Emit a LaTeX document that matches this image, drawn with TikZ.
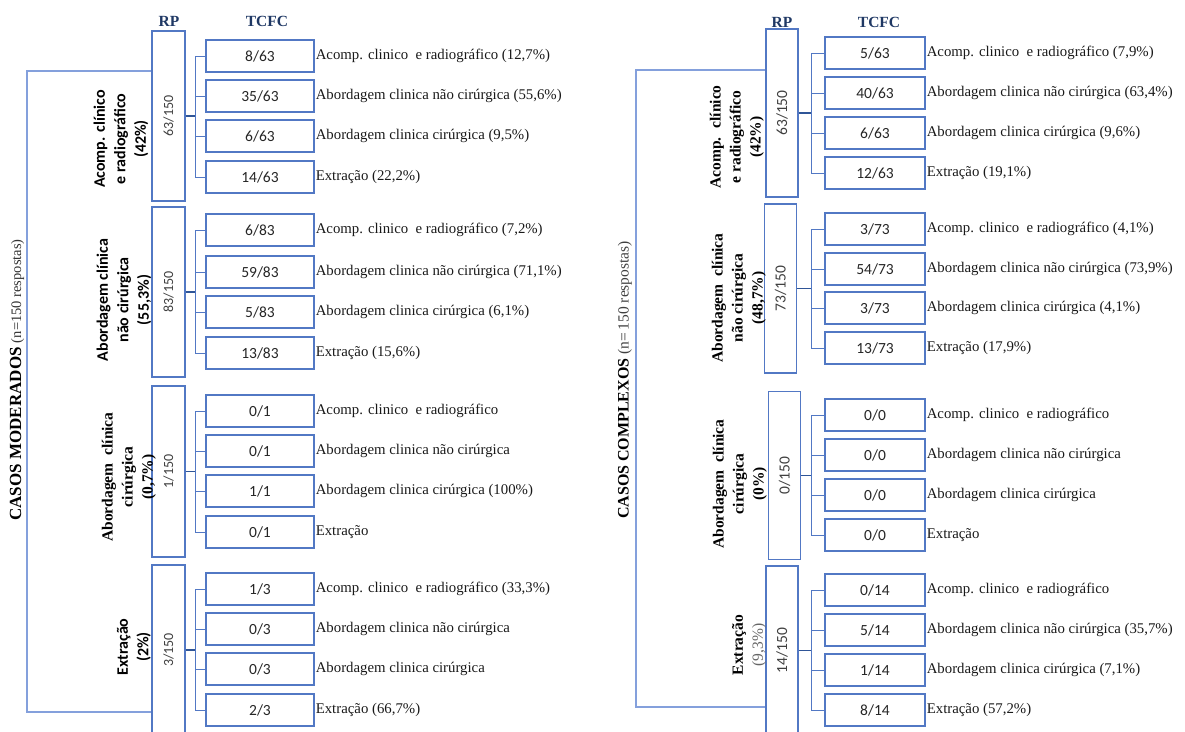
\documentclass[tikz,border=0pt]{standalone}
\usepackage{fontspec}
\setmainfont{Liberation Serif}
\newfontfamily\calibri{Carlito}
\usetikzlibrary{positioning}
\definecolor{boxc}{RGB}{82,120,196}
\definecolor{feedc}{RGB}{47,85,151}
\definecolor{bracec}{RGB}{132,160,220}
\definecolor{headc}{RGB}{31,56,100}
\tikzset{
  rpbox/.style={rectangle,draw=boxc,line width=1.2pt,fill=white,minimum width=33pt,inner sep=0pt},
  rpnum/.style={rotate=90,inner sep=0pt,text=black!75,font=\calibri\fontsize{14}{16}\selectfont},
  tcbox/.style={rectangle,draw=boxc,line width=1.2pt,fill=white,minimum height=32pt,inner sep=0pt,text=black!85,font=\calibri\fontsize{15.5}{18}\selectfont},
  answer/.style={inner sep=0pt,text=black!90,font=\fontsize{14.8}{17}\selectfont},
  grp/.style={rotate=90,align=center,inner sep=0pt,font=\bfseries\fontsize{15.5}{20}\selectfont},
  grpsans/.style={grp,font=\calibri\bfseries\fontsize{16}{20.5}\selectfont},
  caselab/.style={rotate=90,inner sep=0pt,font=\fontsize{17}{20}\selectfont},
  head/.style={inner sep=0pt,text=headc,font=\bfseries\fontsize{15.5}{18}\selectfont},
  % connectors of the little trees, and the bracket round each panel
  branch/.style={draw=boxc,line width=1pt},
  feed/.style={draw=feedc,line width=1.4pt},
  brace/.style={draw=bracec,line width=1.3pt},
}
% one TCFC row: box name, centre x, centre y, count, answer
\newcommand\answerrow[5]{%
  \node[tcbox] (#1) at (#2,#3) {#4};
  \node[answer,right=1pt of #1] (#1t) {#5};}
% tree from an RP box (#1) to its four rows
\newcommand\branches[5]{%
  \draw[branch] (#2.west) -- ++(\spine,0) coordinate (#1top) -- (#1top |- #5.west) -- (#5.west);
  \draw[branch] (#3.west) -- ++(\spine,0);
  \draw[branch] (#4.west) -- ++(\spine,0);
  \draw[feed] (#1.east) -- (#1.east -| #1top);}

\begin{document}
\begin{tikzpicture}[x=1pt,y=-1pt]
  \useasboundingbox (0,0) rectangle (1185,731);
  % ---- left: casos moderados ----
  \begin{scope}[tcbox/.append style={minimum width=108pt}]
  \def\spine{-10}
  \node[head] (mrp) at (169,21) {RP};
  \node[head] (mtc) at (267,21) {TCFC};
  \node[rpbox,minimum height=170pt] (m1rp) at (168.5,116) {};
  \node[rpnum] (m1n) at (m1rp) {63/150};
  \node[grpsans] (m1g) at (121,139) {Acomp. clínico\\e radiográfico\\(42\%)};
  \answerrow{m1a}{260}{56}{8/63}{Acomp. clinico~ e radiográfico (12,7\%)}
  \answerrow{m1b}{260}{96}{35/63}{Abordagem clinica não cirúrgica (55,6\%)}
  \answerrow{m1c}{260}{136}{6/63}{Abordagem clinica cirúrgica (9,5\%)}
  \answerrow{m1d}{260}{177}{14/63}{Extração (22,2\%)}
  \branches{m1rp}{m1a}{m1b}{m1c}{m1d}
  \node[rpbox,minimum height=170pt] (m2rp) at (168.5,292) {};
  \node[rpnum] (m2n) at (m2rp) {83/150};
  \node[grpsans] (m2g) at (124,300) {Abordagem clínica\\não cirúrgica\\(55,3\%)};
  \answerrow{m2a}{260}{230}{6/83}{Acomp. clinico~ e radiográfico (7,2\%)}
  \answerrow{m2b}{260}{272}{59/83}{Abordagem clinica não cirúrgica (71,1\%)}
  \answerrow{m2c}{260}{312}{5/83}{Abordagem clinica cirúrgica (6,1\%)}
  \answerrow{m2d}{260}{353}{13/83}{Extração (15,6\%)}
  \branches{m2rp}{m2a}{m2b}{m2c}{m2d}
  \node[rpbox,minimum height=171pt] (m3rp) at (168.5,471.5) {};
  \node[rpnum] (m3n) at (m3rp) {1/150};
  \node[grp] (m3g) at (129,477) {Abordagem~ clínica\\cirúrgica\\(0,7\%)};
  \answerrow{m3a}{260}{411}{0/1}{Acomp. clinico~ e radiográfico}
  \answerrow{m3b}{260}{451}{0/1}{Abordagem clinica não cirúrgica}
  \answerrow{m3c}{260}{491}{1/1}{Abordagem clinica cirúrgica (100\%)}
  \answerrow{m3d}{260}{532}{0/1}{Extração}
  \branches{m3rp}{m3a}{m3b}{m3c}{m3d}
  \node[rpbox,minimum height=170pt] (m4rp) at (168.5,650) {};
  \node[rpnum] (m4n) at (m4rp) {3/150};
  \node[grpsans] (m4g) at (134,647) {Extração\\(2\%)};
  \answerrow{m4a}{260}{589}{1/3}{Acomp. clinico~ e radiográfico (33,3\%)}
  \answerrow{m4b}{260}{629}{0/3}{Abordagem clinica não cirúrgica}
  \answerrow{m4c}{260}{669}{0/3}{Abordagem clinica cirúrgica}
  \answerrow{m4d}{260}{710}{2/3}{Extração (66,7\%)}
  \branches{m4rp}{m4a}{m4b}{m4c}{m4d}
  \coordinate (mtop) at (27,71);
  \coordinate (mbot) at (27,712);
  \draw[brace] (m1rp.west |- mtop) -- (mtop) -- (mbot) -- (m4rp.west |- mbot);
  \node[caselab] (mcase) at (17,380) {\textbf{CASOS MODERADOS} {\fontsize{14.5}{16}\selectfont\color{black!80}(n=150 respostas)}};
  \end{scope}
  % ---- right: casos complexos ----
  \begin{scope}[tcbox/.append style={minimum width=100pt}]
  \def\spine{-13}
  \node[head] (crp) at (782,22) {RP};
  \node[head] (ctc) at (879,22) {TCFC};
  \node[rpbox,minimum width=32pt,minimum height=168pt] (c1rp) at (782,113) {};
  \node[rpnum,font=\calibri\fontsize{15.5}{17}\selectfont] (c1n) at (c1rp) {63/150};
  \node[grp] (c1g) at (737,137) {Acomp.~ clínico\\e radiográfico\\(42\%)};
  \answerrow{c1a}{875}{53}{5/63}{Acomp. clinico~ e radiográfico (7,9\%)}
  \answerrow{c1b}{875}{93}{40/63}{Abordagem clinica não cirúrgica (63,4\%)}
  \answerrow{c1c}{875}{133}{6/63}{Abordagem clinica cirúrgica (9,6\%)}
  \answerrow{c1d}{875}{173}{12/63}{Extração (19,1\%)}
  \branches{c1rp}{c1a}{c1b}{c1c}{c1d}
  \node[rpbox,minimum width=32pt,minimum height=169pt] (c2rp) at (780.5,288.5) {};
  \node[rpnum,font=\calibri\fontsize{15.5}{17}\selectfont] (c2n) at (c2rp) {73/150};
  \node[grp] (c2g) at (739,298) {Abordagem~ clínica\\não cirúrgica\\(48,7\%)};
  \answerrow{c2a}{875}{229}{3/73}{Acomp. clinico~ e radiográfico (4,1\%)}
  \answerrow{c2b}{875}{269}{54/73}{Abordagem clinica não cirúrgica (73,9\%)}
  \answerrow{c2c}{875}{308}{3/73}{Abordagem clinica cirúrgica (4,1\%)}
  \answerrow{c2d}{875}{348}{13/73}{Extração (17,9\%)}
  \branches{c2rp}{c2a}{c2b}{c2c}{c2d}
  \node[rpbox,minimum width=32pt,minimum height=168pt] (c3rp) at (784.5,475.5) {};
  \node[rpnum,font=\calibri\fontsize{15.5}{17}\selectfont] (c3n) at (c3rp) {0/150};
  \node[grp] (c3g) at (740,484) {Abordagem~ clínica\\cirúrgica\\(0\%)};
  \answerrow{c3a}{875}{415}{0/0}{Acomp. clinico~ e radiográfico}
  \answerrow{c3b}{875}{455}{0/0}{Abordagem clinica não cirúrgica}
  \answerrow{c3c}{875}{495}{0/0}{Abordagem clinica cirúrgica}
  \answerrow{c3d}{875}{535}{0/0}{Extração}
  \branches{c3rp}{c3a}{c3b}{c3c}{c3d}
  \node[rpbox,minimum width=32pt,minimum height=169pt] (c4rp) at (782,650.5) {};
  \node[rpnum,font=\calibri\fontsize{15.5}{17}\selectfont] (c4n) at (c4rp) {14/150};
  \node[grp] (c4g) at (749,645) {Extração\\{\mdseries\color{black!60}(9,3\%)}};
  \answerrow{c4a}{875}{590}{0/14}{Acomp. clinico~ e radiográfico}
  \answerrow{c4b}{875}{630}{5/14}{Abordagem clinica não cirúrgica (35,7\%)}
  \answerrow{c4c}{875}{670}{1/14}{Abordagem clinica cirúrgica (7,1\%)}
  \answerrow{c4d}{875}{710}{8/14}{Extração (57,2\%)}
  \branches{c4rp}{c4a}{c4b}{c4c}{c4d}
  \coordinate (ctop) at (636,70);
  \coordinate (cbot) at (636,707);
  \draw[brace] (c1rp.west |- ctop) -- (ctop) -- (cbot) -- (c4rp.west |- cbot);
  \node[caselab,font=\fontsize{16}{20}\selectfont] (ccase) at (625,380) {\textbf{CASOS COMPLEXOS} {\fontsize{15.5}{17}\selectfont\color{black!75}(n=\,150 respostas)}};
  \end{scope}
\end{tikzpicture}
\end{document}
